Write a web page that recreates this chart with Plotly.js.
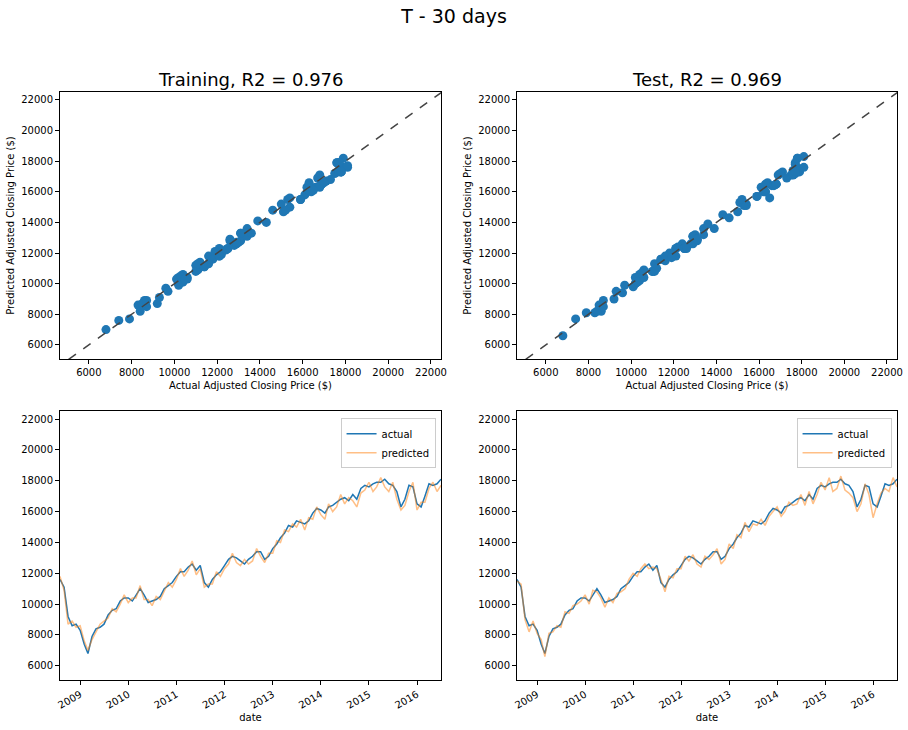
<!DOCTYPE html>
<html><head><meta charset="utf-8">
<script src="https://cdn.plot.ly/plotly-3.0.1.min.js"></script>
<style>body{margin:0}#c{width:908px;height:730px}</style></head>
<body><div id="c"></div>
<script>
const startYear = 2008, startMonth = 8; // monthly series Aug 2008 - Jul 2016
const actual = [11600,11100,9200,8600,8700,
8300,7400,6800,7900,8400,8500,8700,9300,9600,9700,10200,10400,
10400,10200,10600,11000,10600,10100,10200,10300,10500,11000,11200,11400,
11800,12100,12100,12400,12600,12200,12500,11400,11100,11600,11900,12100,
12500,12900,13100,13000,12800,12600,12900,13100,13400,13400,12900,13100,
13600,13900,14300,14600,15100,15000,15400,15300,15200,15400,15900,16200,
16100,15900,16300,16400,16600,16800,16900,16700,17100,16800,17500,17700,
17600,17800,17900,17900,18100,17800,17700,17300,16300,16800,17700,17600,
16500,16300,17000,17800,17700,17800,18100];
const trainPred = [11800,10900,8700,8900,8500,
8600,7600,7000,7700,8200,8700,8900,9100,9700,9500,10000,10600,
10100,10400,10400,11200,10300,10300,9900,10500,10300,10800,11400,11100,
11600,12300,11800,12200,12800,11900,12300,11100,11300,11300,12100,11800,
12300,12600,13300,12700,12500,12900,12600,12800,13600,13100,12700,13300,
13300,14100,14000,14800,14700,15200,15000,15500,14800,15600,15500,16300,
15800,15500,16500,16000,16300,17100,16500,16900,16700,16300,17200,17400,
17900,17300,17600,18200,17600,17300,17900,16800,16100,16400,17300,17900,
16100,16600,16600,17500,17900,17300,17700];
const testPred = [11500,11300,9000,8200,8900,
8100,7700,6600,8100,8200,8600,8500,9500,9400,9900,10000,10200,
10600,10000,10900,10800,10400,9800,10400,10100,10700,10800,11000,11600,
12000,11800,12300,12600,12300,12400,12300,11600,10800,11800,11700,12300,
12300,13100,12800,13200,12600,12400,13100,12900,13200,13600,12600,12900,
13900,13600,14500,14300,15300,14700,15200,15100,15500,15100,15700,16000,
16300,15700,16000,16600,16400,16500,17100,16400,17300,16500,17100,17900,
17400,18200,17300,17500,18300,17400,17200,16900,16000,16500,17800,17100,
15600,16500,17200,17500,17300,18200,17600];
const dates = actual.map((_, i) => {
  const m = startMonth - 1 + i;
  const y = startYear + Math.floor(m / 12);
  return y + '-' + String(m % 12 + 1).padStart(2, '0') + '-01';
});
const lo = 4650, hi = 22470;
const blue = '#1f77b4', orange = '#ff7f0e';
const tf = {family: 'DejaVu Sans', size: 10, color: '#000'};
const ax = {showline: true, mirror: true, linecolor: '#000', linewidth: 1, ticks: 'outside', ticklen: 4, tickcolor: '#000', showgrid: false, zeroline: false, tickfont: tf, tickformat: 'd'};
const axT = t => ({text: t, font: {family: 'DejaVu Sans', size: 10, color: '#000'}, standoff: 4});
const traces = [
  {x: actual, y: trainPred, mode: 'markers', type: 'scatter', marker: {color: blue, size: 9}, xaxis: 'x', yaxis: 'y', showlegend: false},
  {x: [3000, 24000], y: [3000, 24000], mode: 'lines', line: {color: '#444', dash: 'dash', width: 1.5}, xaxis: 'x', yaxis: 'y', showlegend: false},
  {x: actual, y: testPred, mode: 'markers', type: 'scatter', marker: {color: blue, size: 9}, xaxis: 'x2', yaxis: 'y2', showlegend: false},
  {x: [3000, 24000], y: [3000, 24000], mode: 'lines', line: {color: '#444', dash: 'dash', width: 1.5}, xaxis: 'x2', yaxis: 'y2', showlegend: false},
  {x: dates, y: actual, mode: 'lines', name: 'actual', line: {color: blue, width: 1.5}, xaxis: 'x3', yaxis: 'y3', legend: 'legend'},
  {x: dates, y: trainPred, mode: 'lines', name: 'predicted', line: {color: orange, width: 1.5}, opacity: 0.5, xaxis: 'x3', yaxis: 'y3', legend: 'legend'},
  {x: dates, y: actual, mode: 'lines', name: 'actual', line: {color: blue, width: 1.5}, xaxis: 'x4', yaxis: 'y4', legend: 'legend2'},
  {x: dates, y: testPred, mode: 'lines', name: 'predicted', line: {color: orange, width: 1.5}, opacity: 0.5, xaxis: 'x4', yaxis: 'y4', legend: 'legend2'}
];
const dx1 = [60/908, 441/908], dx2 = [517/908, 897/908];
const dyT = [(730-359)/730, (730-92)/730], dyB = [(730-680)/730, (730-411)/730];
const yr = [5080, 22520];
const dateAx = Object.assign({}, ax, {type: 'date', range: ['2008-08-01', '2016-07-01'], tickformat: '%Y', dtick: 'M12', tick0: '2009-01-01', tickangle: -30, title: axT('date')});
const leg = (x) => ({x: x, y: dyB[1] - 0.01, xanchor: 'right', yanchor: 'top', bgcolor: 'rgba(255,255,255,0.8)', bordercolor: '#ccc', borderwidth: 1, font: {family: 'DejaVu Sans', size: 10, color: '#000'}, traceorder: 'normal'});
const layout = {
  width: 908, height: 730, margin: {l: 0, r: 0, t: 0, b: 0}, paper_bgcolor: '#fff', plot_bgcolor: '#fff',
  title: {text: 'T - 30 days', font: {family: 'DejaVu Sans', size: 19, color: '#000'}, x: 0.5, xanchor: 'center', y: 1 - 16/730, yanchor: 'middle'},
  xaxis: Object.assign({}, ax, {domain: dx1, range: [lo, hi], dtick: 2000, tick0: 0, anchor: 'y', title: axT('Actual Adjusted Closing Price ($)')}),
  yaxis: Object.assign({}, ax, {domain: dyT, range: yr, dtick: 2000, tick0: 0, anchor: 'x', title: axT('Predicted Adjusted Closing Price ($)')}),
  xaxis2: Object.assign({}, ax, {domain: dx2, range: [lo, hi], dtick: 2000, tick0: 0, anchor: 'y2', title: axT('Actual Adjusted Closing Price ($)')}),
  yaxis2: Object.assign({}, ax, {domain: dyT, range: yr, dtick: 2000, tick0: 0, anchor: 'x2', title: axT('Predicted Adjusted Closing Price ($)')}),
  xaxis3: Object.assign({}, dateAx, {domain: dx1, anchor: 'y3'}),
  yaxis3: Object.assign({}, ax, {domain: dyB, range: yr, dtick: 2000, tick0: 0, anchor: 'x3'}),
  xaxis4: Object.assign({}, dateAx, {domain: dx2, anchor: 'y4'}),
  yaxis4: Object.assign({}, ax, {domain: dyB, range: yr, dtick: 2000, tick0: 0, anchor: 'x4'}),
  legend: leg(dx1[1] - 0.006),
  legend2: leg(dx2[1] - 0.006),
  annotations: [
    {text: 'Training, R2 = 0.976', xref: 'paper', yref: 'paper', x: (dx1[0]+dx1[1])/2, y: dyT[1], yanchor: 'bottom', xanchor: 'center', showarrow: false, font: {family: 'DejaVu Sans', size: 18, color: '#000'}},
    {text: 'Test, R2 = 0.969', xref: 'paper', yref: 'paper', x: (dx2[0]+dx2[1])/2, y: dyT[1], yanchor: 'bottom', xanchor: 'center', showarrow: false, font: {family: 'DejaVu Sans', size: 18, color: '#000'}}
  ]
};
Plotly.newPlot('c', traces, layout, {displayModeBar: false, staticPlot: true});
</script></body></html>
